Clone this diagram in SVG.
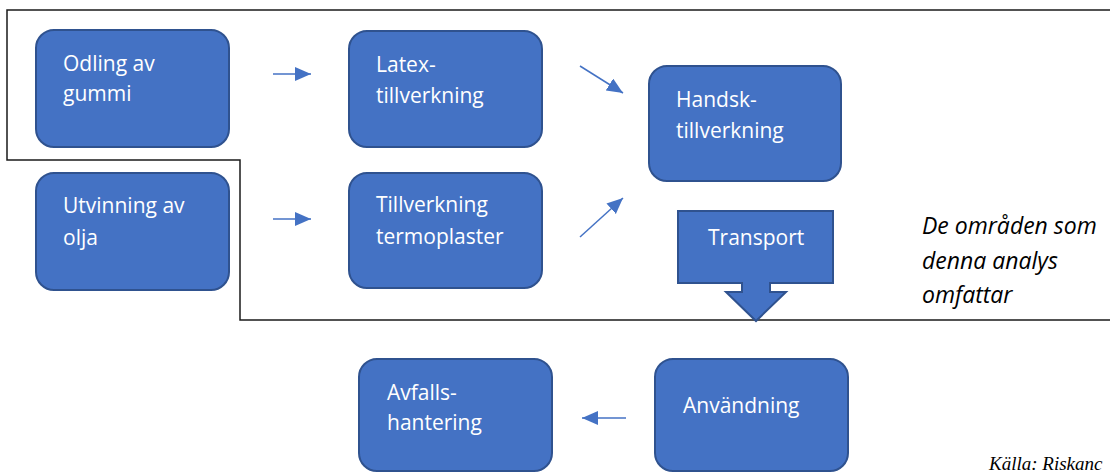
<svg xmlns="http://www.w3.org/2000/svg" width="1110" height="473" viewBox="0 0 1110 473">
<style>
.box{fill:#4472C4;stroke:#2F528F;stroke-width:2}
.lbl{font-family:"Open Sans","Noto Sans","Liberation Sans",sans-serif;font-size:21px;fill:#FFFFFF}
.note{font-family:"Open Sans","Noto Sans","Liberation Sans",sans-serif;font-size:23px;font-style:italic;fill:#000000}
.src{font-family:"Liberation Serif",serif;font-size:19px;font-style:italic;fill:#000000}
.con{stroke:#4472C4;stroke-width:1.5;fill:none;marker-end:url(#ah)}
.frame{fill:none;stroke:#1a1a1a;stroke-width:1.5}
</style>
<defs>
<marker id="ah" markerUnits="userSpaceOnUse" markerWidth="17" markerHeight="15" refX="16" refY="7" orient="auto">
<path d="M0,0 L16,7 L0,14 z" fill="#4472C4"/>
</marker>
</defs>
<rect width="1110" height="473" fill="#FFFFFF"/>
<path class="frame" d="M1112,10 H7 V160 H240 V320 H1112"/>
<g id="odling">
<rect class="box" x="36" y="30" width="193" height="117" rx="18"/>
<text class="lbl" x="63" y="71">Odling av</text>
<text class="lbl" x="63" y="101">gummi</text>
</g>
<g id="latex">
<rect class="box" x="349" y="31" width="193" height="116" rx="18"/>
<text class="lbl" x="376" y="72">Latex-</text>
<text class="lbl" x="376" y="103">tillverkning</text>
</g>
<g id="handsk">
<rect class="box" x="649" y="66" width="192" height="115" rx="18"/>
<text class="lbl" x="676" y="107">Handsk-</text>
<text class="lbl" x="676" y="138">tillverkning</text>
</g>
<g id="utvinning">
<rect class="box" x="36" y="173" width="193" height="117" rx="18"/>
<text class="lbl" x="63" y="213">Utvinning av</text>
<text class="lbl" x="63" y="245">olja</text>
</g>
<g id="termoplaster">
<rect class="box" x="349" y="173" width="193" height="115" rx="18"/>
<text class="lbl" x="376" y="212">Tillverkning</text>
<text class="lbl" x="376" y="244">termoplaster</text>
</g>
<g id="transport">
<path class="box" d="M678,211 H833 V283 H770 V292 H786 L756,321 L726,292 H742 V283 H678 Z"/>
<text class="lbl" x="708" y="245">Transport</text>
</g>
<g id="avfall">
<rect class="box" x="359" y="359" width="193" height="112" rx="18"/>
<text class="lbl" x="387" y="400">Avfalls-</text>
<text class="lbl" x="387" y="430">hantering</text>
</g>
<g id="anvandning">
<rect class="box" x="655" y="359" width="193" height="112" rx="18"/>
<text class="lbl" x="683" y="413">Användning</text>
</g>
<g id="note">
<text class="note" x="922" y="234">De områden som</text>
<text class="note" x="922" y="269">denna analys</text>
<text class="note" x="922" y="303">omfattar</text>
</g>
<g id="source">
<text class="src" x="989" y="470">Källa: Riskanc</text>
</g>
<g id="connectors">
<line class="con" x1="273" y1="74" x2="311" y2="74"/>
<line class="con" x1="273" y1="219" x2="311" y2="219"/>
<line class="con" x1="580" y1="66" x2="623" y2="93"/>
<line class="con" x1="580" y1="237" x2="623" y2="198"/>
<line class="con" x1="626" y1="418" x2="582" y2="418"/>
</g>
</svg>
